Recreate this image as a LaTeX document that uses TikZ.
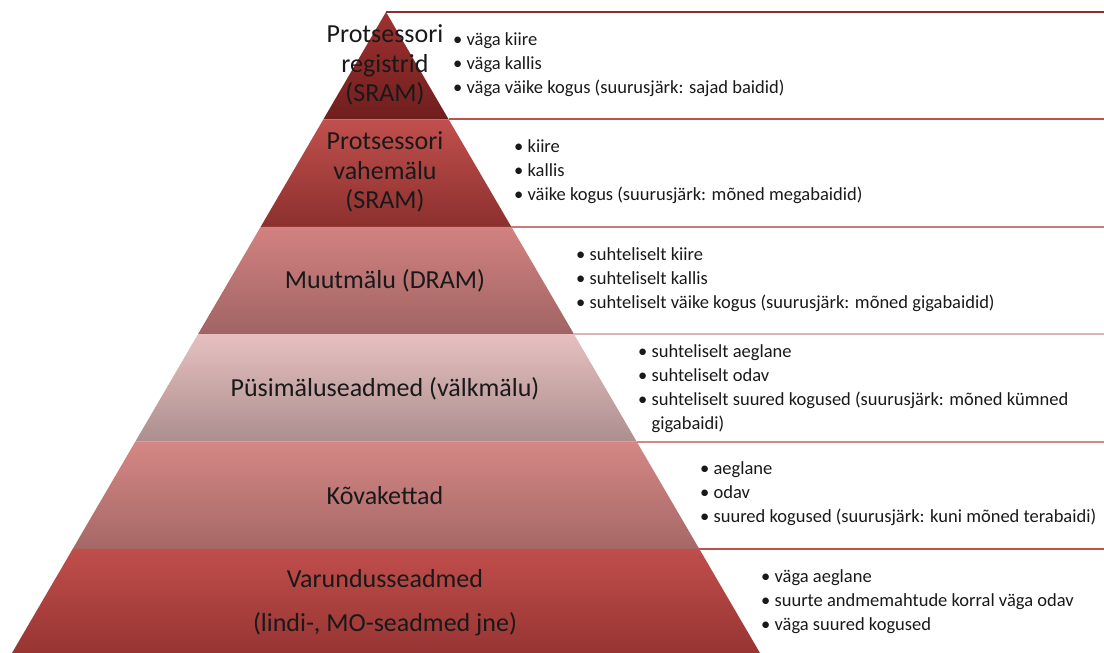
\documentclass[tikz,border=0pt]{standalone}
\usepackage{fontspec}
\setmainfont{Carlito}
\usetikzlibrary{calc}

\definecolor{regtop}{RGB}{158,50,48}
\definecolor{regbot}{RGB}{112,30,30}
\definecolor{cachetop}{RGB}{192,80,77}
\definecolor{cachebot}{RGB}{140,48,46}
\definecolor{ramtop}{RGB}{210,130,128}
\definecolor{rambot}{RGB}{160,100,100}
\definecolor{flashtop}{RGB}{230,192,192}
\definecolor{flashbot}{RGB}{172,142,142}
\definecolor{hddtop}{RGB}{213,135,133}
\definecolor{hddbot}{RGB}{165,104,102}
\definecolor{backuptop}{RGB}{192,78,75}
\definecolor{backupbot}{RGB}{150,52,50}

\begin{document}
\begin{tikzpicture}[
x = 1pt, y = -1pt,
level/.style = {align=center, inner sep=0pt, text=black!90, font=\fontsize{26}{29.5}\selectfont},
facts/.style = {anchor=west, align=left, inner sep=0pt, text=black!90, font=\fontsize{18.5}{24}\selectfont},
rule/.style = {line width=2pt}]

\useasboundingbox (0,0) rectangle (1104,653);
\clip (0,0) rectangle (1104,653);

\coordinate (apex) at (386,12);
\coordinate (bl) at (10,656.4);
\coordinate (br) at (762,656.4);
\coordinate (edge) at (1104,0);

% band corners
\coordinate (l1) at ($(apex)!1/6!(bl)$);
\coordinate (r1) at ($(apex)!1/6!(br)$);
\coordinate (l2) at ($(apex)!2/6!(bl)$);
\coordinate (r2) at ($(apex)!2/6!(br)$);
\coordinate (l3) at ($(apex)!3/6!(bl)$);
\coordinate (r3) at ($(apex)!3/6!(br)$);
\coordinate (l4) at ($(apex)!4/6!(bl)$);
\coordinate (r4) at ($(apex)!4/6!(br)$);
\coordinate (l5) at ($(apex)!5/6!(bl)$);
\coordinate (r5) at ($(apex)!5/6!(br)$);

% pyramid bands
\shade[top color=regtop, bottom color=regbot] (apex) -- (r1) -- (l1) -- cycle;
\shade[top color=cachetop, bottom color=cachebot] (l1) -- (r1) -- (r2) -- (l2) -- cycle;
\shade[top color=ramtop, bottom color=rambot] (l2) -- (r2) -- (r3) -- (l3) -- cycle;
\shade[top color=flashtop, bottom color=flashbot] (l3) -- (r3) -- (r4) -- (l4) -- cycle;
\shade[top color=hddtop, bottom color=hddbot] (l4) -- (r4) -- (r5) -- (l5) -- cycle;
\shade[top color=backuptop, bottom color=backupbot] (l5) -- (r5) -- (br) -- (bl) -- cycle;

% separators on the right
\draw[line width=1.2pt, regtop!90!black] (apex) -- (apex -| edge);
\draw[rule, cachetop] (r1) -- (r1 -| edge);
\draw[rule, ramtop!95!black] (r2) -- (r2 -| edge);
\draw[rule, flashtop!95!black] (r3) -- (r3 -| edge);
\draw[rule, hddtop] (r4) -- (r4 -| edge);
\draw[rule, cachetop] (r5) -- (r5 -| edge);

% level names
\node[level] (reg) at (385,65) {Protsessori\\registrid\\(SRAM)};
\node[level] (cache) at (385,172) {Protsessori\\vahemälu\\(SRAM)};
\node[level] (ram) at (385,281) {Muutmälu (DRAM)};
\node[level] (flash) at (385,389) {Püsimäluseadmed (välkmälu)};
\node[level] (hdd) at (385,496) {Kõvakettad};
\node[level, font=\fontsize{26}{44}\selectfont] (backup) at (385,603) {Varundusseadmed\\(lindi-, MO-seadmed jne)};

% properties
\node[facts] (regfacts) at (453,65) {\textbullet\ väga kiire\\\textbullet\ väga kallis\\\textbullet\ väga väike kogus (suurusjärk: sajad baidid)};
\node[facts] (cachefacts) at (514,172) {\textbullet\ kiire\\\textbullet\ kallis\\\textbullet\ väike kogus (suurusjärk: mõned megabaidid)};
\node[facts] (ramfacts) at (576,280) {\textbullet\ suhteliselt kiire\\\textbullet\ suhteliselt kallis\\\textbullet\ suhteliselt väike kogus (suurusjärk: mõned gigabaidid)};
\node[facts] (flashfacts) at (638,389) {\textbullet\ suhteliselt aeglane\\\textbullet\ suhteliselt odav\\\textbullet\ suhteliselt suured kogused (suurusjärk: mõned kümned\\\phantom{\textbullet\ }gigabaidi)};
\node[facts] (hddfacts) at (700,494) {\textbullet\ aeglane\\\textbullet\ odav\\\textbullet\ suured kogused (suurusjärk: kuni mõned terabaidi)};
\node[facts] (backupfacts) at (761,602) {\textbullet\ väga aeglane\\\textbullet\ suurte andmemahtude korral väga odav\\\textbullet\ väga suured kogused};
\end{tikzpicture}
\end{document}
